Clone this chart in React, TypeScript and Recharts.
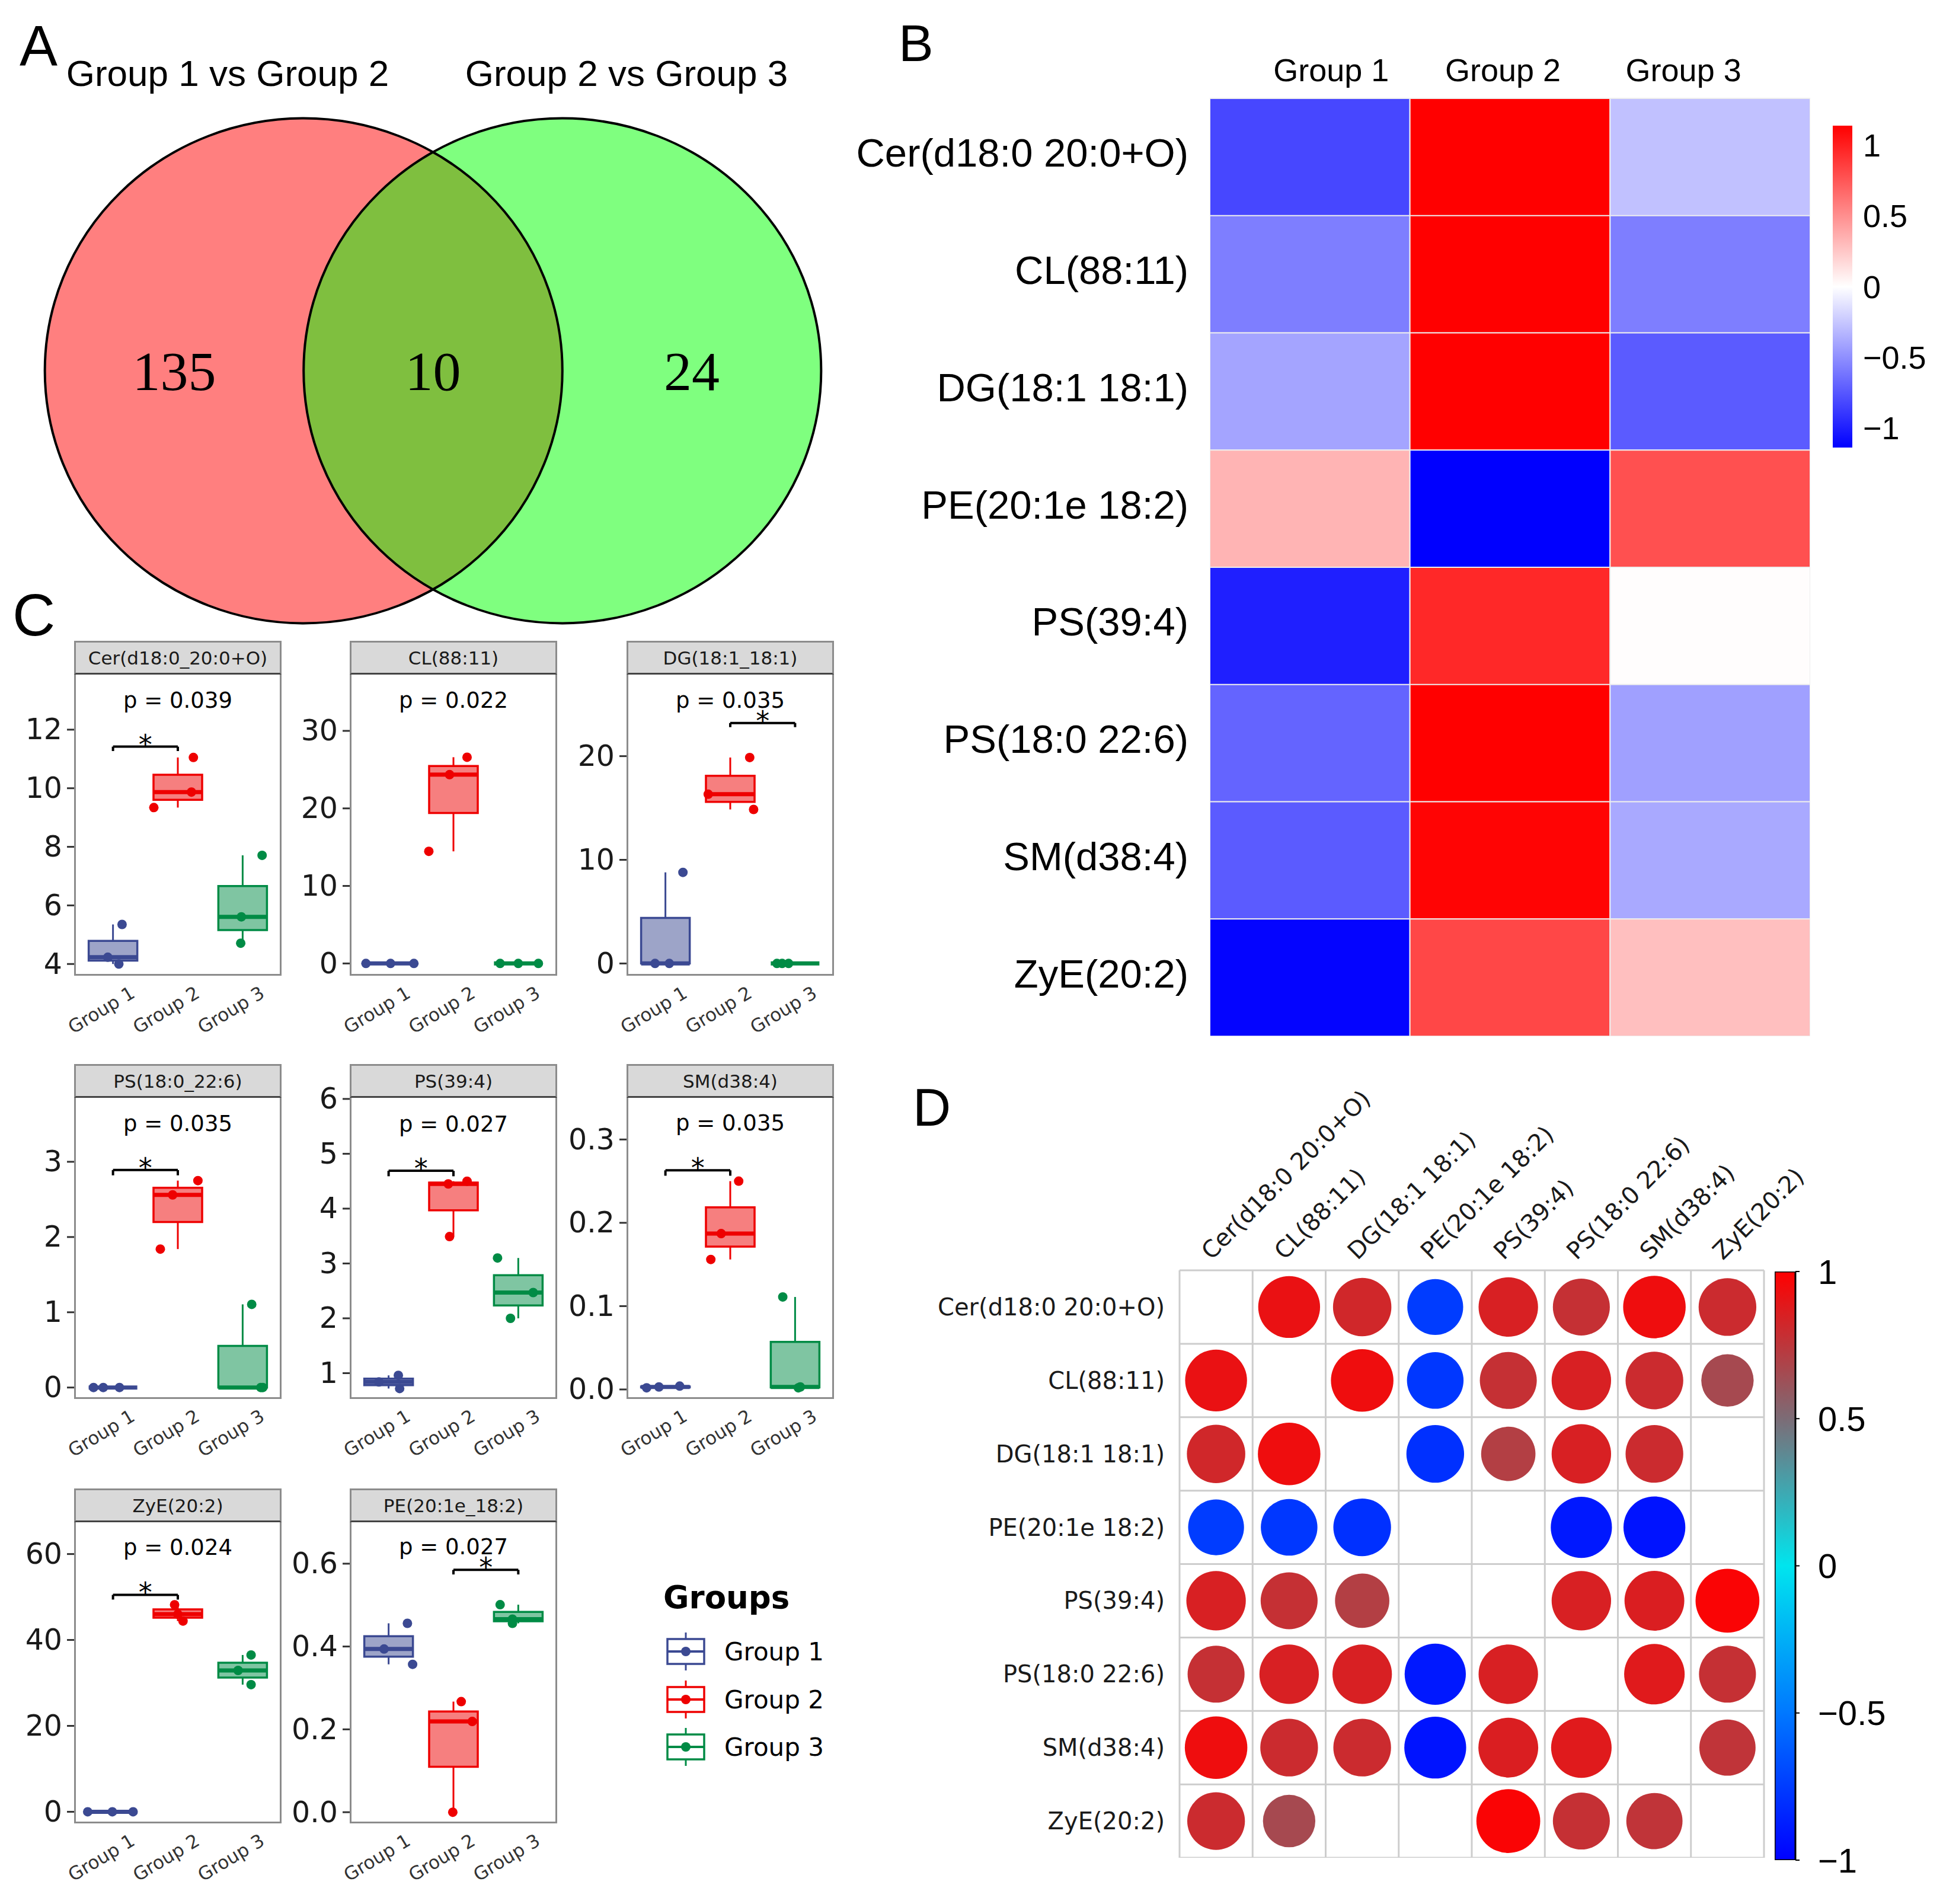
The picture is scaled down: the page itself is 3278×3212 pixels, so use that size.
import React from 'react';
import {
  ScatterChart, Scatter, XAxis, YAxis, BarChart, Bar, Cell,
  ReferenceArea, ReferenceLine, ReferenceDot,
} from 'recharts';

const ARIAL = '"Liberation Sans", Arial, sans-serif';
const SERIF = '"Liberation Serif", "Times New Roman", serif';
const DEJAVU = '"DejaVu Sans", sans-serif';

// ---------------- Panel A (Venn) data ----------------
const VENN_SETS = [
  { name: 'Group 1 vs Group 2', x: 0, y: 0, color: '#FF0000' },
  { name: 'Group 2 vs Group 3', x: 1, y: 0, color: '#00FF00' },
];
const VENN_REGIONS = [
  { x: -0.5, y: 0, count: 135 },
  { x: 0.5, y: 0, count: 10 },
  { x: 1.5, y: 0, count: 24 },
];

// ---------------- Panel B (heatmap) data ----------------
const LIPIDS = ['Cer(d18:0 20:0+O)', 'CL(88:11)', 'DG(18:1 18:1)', 'PE(20:1e 18:2)', 'PS(39:4)', 'PS(18:0 22:6)', 'SM(d38:4)', 'ZyE(20:2)'];
const GROUPS = ['Group 1', 'Group 2', 'Group 3'];
const HEAT_G1 = [-0.83, -0.58, -0.41, 0.34, -1.01, -0.70, -0.74, -1.13];
const HEAT_G2 = [1.15, 1.15, 1.15, -1.15, 0.97, 1.15, 1.13, 0.83];
const HEAT_G3 = [-0.28, -0.58, -0.74, 0.79, 0.01, -0.43, -0.39, 0.29];
const HEAT_TICKS = [-1, -0.5, 0, 0.5, 1];
const HEAT_LIMIT = 1.14;
const HEAT_COL_LABEL_DX = [36, -12, -45];

// ---------------- Panel C (boxplots) data ----------------
const C_TITLES = ['Cer(d18:0_20:0+O)', 'CL(88:11)', 'DG(18:1_18:1)', 'PS(18:0_22:6)', 'PS(39:4)', 'SM(d38:4)', 'ZyE(20:2)', 'PE(20:1e_18:2)'];
const C_PVALUES = ['p = 0.039', 'p = 0.022', 'p = 0.035', 'p = 0.035', 'p = 0.027', 'p = 0.035', 'p = 0.024', 'p = 0.027'];
const C_P_Y = [13.0, 33.9, 25.4, 3.51, 5.54, 0.32, 61.5, 0.64];
const C_DOMAINS = [[3.6, 13.88], [-1.58, 37.26], [-1.18, 27.87], [-0.152, 3.85], [0.53, 6.02], [-0.0114, 0.35], [-2.7, 67.4], [-0.027, 0.70]];
const C_TICKS = [[4, 6, 8, 10, 12], [0, 10, 20, 30], [0, 10, 20], [0, 1, 2, 3], [1, 2, 3, 4, 5, 6], [0, 0.1, 0.2, 0.3], [0, 20, 40, 60], [0, 0.2, 0.4, 0.6]];
const C_TICK_DECIMALS = [0, 0, 0, 0, 0, 1, 0, 1];
const C_BRACKETS = [
  { a: 1, b: 2, y: 11.42, tip: 11.27 },
  null,
  { a: 2, b: 3, y: 23.2, tip: 22.8 },
  { a: 1, b: 2, y: 2.89, tip: 2.82 },
  { a: 1, b: 2, y: 4.69, tip: 4.59 },
  { a: 1, b: 2, y: 0.263, tip: 0.2565 },
  { a: 1, b: 2, y: 50.5, tip: 49.4 },
  { a: 2, b: 3, y: 0.585, tip: 0.574 },
];
// points: [x (jittered group position), y]
const C_G1 = [
  [[1.14, 5.35], [0.92, 4.23], [1.09, 4.0]],
  [[0.65, 0], [1.03, 0], [1.39, 0]],
  [[1.27, 8.79], [0.84, 0], [1.06, 0]],
  [[0.70, 0], [0.85, 0], [1.10, 0]],
  [[0.85, 0.84], [1.15, 0.96], [1.17, 0.72]],
  [[0.71, 0.002], [0.90, 0.003], [1.22, 0.004]],
  [[0.61, 0], [0.99, 0], [1.31, 0]],
  [[1.29, 0.456], [0.93, 0.394], [1.37, 0.357]],
];
const C_G2 = [
  [[2.24, 11.05], [2.21, 9.87], [1.63, 9.34]],
  [[2.21, 26.6], [1.94, 24.35], [1.62, 14.46]],
  [[2.30, 19.87], [1.66, 16.33], [2.36, 14.86]],
  [[2.31, 2.75], [1.92, 2.56], [1.73, 1.84]],
  [[1.92, 4.45], [2.21, 4.5], [1.94, 3.49]],
  [[2.13, 0.25], [1.86, 0.187], [1.70, 0.156]],
  [[1.95, 48.2], [2.08, 44.4], [2.0, 46.0]],
  [[2.12, 0.267], [2.29, 0.219], [1.99, 0.0]],
];
const C_G3 = [
  [[3.30, 7.71], [2.98, 5.61], [2.97, 4.71]],
  [[2.72, 0], [3.0, 0], [3.31, 0]],
  [[2.72, 0], [2.80, 0], [2.90, 0]],
  [[3.14, 1.105], [3.31, 0], [3.28, 0]],
  [[2.68, 3.1], [3.23, 2.47], [2.88, 2.0]],
  [[2.81, 0.111], [3.08, 0.003], [3.05, 0.002]],
  [[3.13, 36.5], [2.93, 32.9], [3.13, 29.6]],
  [[2.72, 0.501], [2.91, 0.466], [2.91, 0.456]],
];
const GROUP_COLORS = ['#3B4992', '#EE0000', '#008B45'];

// ---------------- Panel D (correlation) data ----------------
const CORR = [
  [null, 0.92, 0.82, -0.75, 0.85, 0.78, 0.94, 0.80],
  [0.92, null, 0.94, -0.77, 0.78, 0.85, 0.80, 0.66],
  [0.82, 0.94, null, -0.80, 0.71, 0.85, 0.80, null],
  [-0.75, -0.77, -0.80, null, null, -0.90, -0.92, null],
  [0.85, 0.78, 0.71, null, null, 0.85, 0.86, 0.98],
  [0.78, 0.85, 0.85, -0.90, 0.85, null, 0.88, 0.78],
  [0.94, 0.80, 0.80, -0.92, 0.86, 0.88, null, 0.76],
  [0.80, 0.66, null, null, 0.98, 0.78, 0.76, null],
];
const CORR_TICKS = [-1, -0.5, 0, 0.5, 1];

// ---------------- helpers ----------------
const fmtMinus = (v: number) => String(v).replace('-', '\u2212');

function heatColor(v: number) {
  const t = Math.max(-1, Math.min(1, v / 1.15));
  if (t < 0) {
    const c = Math.round(255 * (1 + t));
    return `rgb(${c},${c},255)`;
  }
  const c = Math.round(255 * (1 - t));
  return `rgb(255,${c},${c})`;
}

const CORR_STOPS: [number, number[]][] = [
  [-1, [0, 0, 255]],
  [-0.5, [0, 120, 255]],
  [0, [0, 229, 238]],
  [0.5, [124, 108, 118]],
  [1, [255, 0, 0]],
];
function corrColor(r: number) {
  for (let i = 0; i < CORR_STOPS.length - 1; i++) {
    const [a, ca] = CORR_STOPS[i];
    const [b, cb] = CORR_STOPS[i + 1];
    if (r >= a && r <= b) {
      const t = (r - a) / (b - a);
      const c = ca.map((v, k) => Math.round(v + (cb[k] - v) * t));
      return `rgb(${c[0]},${c[1]},${c[2]})`;
    }
  }
  return '#000';
}

function boxStats(vals: number[]) {
  const s = [...vals].sort((a, b) => a - b);
  const q = (p: number) => {
    const h = (s.length - 1) * p;
    const lo = Math.floor(h);
    const hi = Math.ceil(h);
    return s[lo] + (s[hi] - s[lo]) * (h - lo);
  };
  return { min: s[0], q1: q(0.25), med: q(0.5), q3: q(0.75), max: s[s.length - 1] };
}

// ---------------- Panel A ----------------
const VENN_W = 1397;
const VENN_H = 937;
const VENN_XD = [-1.1, 2.1];
const VENN_YD = [-1.1, 1.1];
const UX = VENN_W / (VENN_XD[1] - VENN_XD[0]);
const UY = VENN_H / (VENN_YD[1] - VENN_YD[0]);

function Venn() {
  return (
    <ScatterChart width={VENN_W} height={VENN_H} margin={{ top: 0, right: 0, bottom: 0, left: 0 }}>
      <XAxis type="number" dataKey="x" domain={VENN_XD} hide allowDataOverflow />
      <YAxis type="number" dataKey="y" domain={VENN_YD} hide allowDataOverflow />
      <Scatter
        data={VENN_SETS}
        isAnimationActive={false}
        shape={(p: any) => (
          <ellipse cx={p.cx} cy={p.cy} rx={UX} ry={UY} fill={p.payload.color} fillOpacity={0.5} stroke="none" />
        )}
      />
      <Scatter
        data={VENN_SETS}
        isAnimationActive={false}
        shape={(p: any) => (
          <ellipse cx={p.cx} cy={p.cy} rx={UX} ry={UY} fill="none" stroke="#000" strokeWidth={4} />
        )}
      />
      <Scatter
        data={VENN_REGIONS}
        isAnimationActive={false}
        shape={(p: any) => (
          <text x={p.cx} y={p.cy} textAnchor="middle" dominantBaseline="central" fontSize={94} fontFamily={SERIF} fill="#000">
            {p.payload.count}
          </text>
        )}
      />
    </ScatterChart>
  );
}

// ---------------- Panel B ----------------
function Heatmap() {
  const rows = LIPIDS.map((name) => ({ name, g1: 1, g2: 1, g3: 1 }));
  const cols = [HEAT_G1, HEAT_G2, HEAT_G3];
  return (
    <BarChart
      layout="vertical"
      width={1654}
      height={1688}
      data={rows}
      margin={{ top: 0, right: 0, bottom: 0, left: 0 }}
      barCategoryGap={0}
      barGap={0}
    >
      <XAxis
        type="number"
        orientation="top"
        domain={[0, 3]}
        ticks={[0.5, 1.5, 2.5]}
        allowDataOverflow
        interval={0}
        height={106}
        tickSize={0}
        tickMargin={0}
        axisLine={false}
        tickLine={false}
        tick={(p: any) => {
          const k = Math.floor(p.payload.value);
          return (
            <text x={p.x + HEAT_COL_LABEL_DX[k]} y={p.y - 29} textAnchor="middle" fontSize={54} fontFamily={ARIAL} fill="#000">
              {GROUPS[k]}
            </text>
          );
        }}
      />
      <YAxis
        type="category"
        dataKey="name"
        width={641}
        interval={0}
        tickSize={0}
        tickMargin={0}
        axisLine={false}
        tickLine={false}
        tick={(p: any) => (
          <text x={p.x - 36} y={p.y - 7} textAnchor="end" dominantBaseline="central" fontSize={67} fontFamily={ARIAL} fill="#000">
            {p.payload.value}
          </text>
        )}
      />
      {['g1', 'g2', 'g3'].map((k, j) => (
        <Bar key={k} dataKey={k} stackId="h" isAnimationActive={false} stroke="#EEEEEE" strokeWidth={2}>
          {rows.map((_, i) => (
            <Cell key={i} fill={heatColor(cols[j][i])} />
          ))}
        </Bar>
      ))}
    </BarChart>
  );
}

function HeatLegend() {
  return (
    <BarChart
      width={33 + 150}
      height={543 + 60}
      data={[{ k: 'scale', v: [-HEAT_LIMIT, HEAT_LIMIT] }]}
      margin={{ top: 30, right: 0, bottom: 30, left: 0 }}
      barCategoryGap={0}
    >
      <XAxis type="category" dataKey="k" hide />
      <YAxis
        type="number"
        orientation="right"
        domain={[-HEAT_LIMIT, HEAT_LIMIT]}
        allowDataOverflow
        ticks={HEAT_TICKS}
        interval={0}
        width={150}
        tickSize={0}
        tickMargin={0}
        axisLine={false}
        tickLine={false}
        tick={(p: any) => (
          <text x={p.x + 18} y={p.y} textAnchor="start" dominantBaseline="central" fontSize={54} fontFamily={ARIAL} fill="#000">
            {fmtMinus(p.payload.value)}
          </text>
        )}
      />
      <Bar dataKey="v" fill="url(#gradHeat)" isAnimationActive={false} />
    </BarChart>
  );
}

// ---------------- Panel C ----------------
const FACET_W = 350;
const FACET_H = 508;
const STRIP_H = 57;
const Y_AXIS_W = 110;
const X_AXIS_H = 130;
const TOP_PAD = 30;
const COL_X = [125, 590, 1057];
const ROW_Y = [1081, 1795, 2511];
const FACET_POS = [[0, 0], [1, 0], [2, 0], [0, 1], [1, 1], [2, 1], [0, 2], [1, 2]];

function Facet({ idx }: { idx: number }) {
  const [c, r] = FACET_POS[idx];
  const left = COL_X[c];
  const top = ROW_Y[r];
  const groups = [C_G1[idx], C_G2[idx], C_G3[idx]];
  const dec = C_TICK_DECIMALS[idx];
  const br = C_BRACKETS[idx];
  const elems: any[] = [];
  groups.forEach((pts, gi) => {
    const g = gi + 1;
    const col = GROUP_COLORS[gi];
    const s = boxStats(pts.map((p) => p[1]));
    elems.push(
      <ReferenceLine key={`wu${g}`} segment={[{ x: g, y: s.q3 }, { x: g, y: s.max }]} stroke={col} strokeWidth={3} ifOverflow="visible" />,
      <ReferenceLine key={`wl${g}`} segment={[{ x: g, y: s.min }, { x: g, y: s.q1 }]} stroke={col} strokeWidth={3} ifOverflow="visible" />,
      <ReferenceArea key={`bx${g}`} x1={g - 0.375} x2={g + 0.375} y1={s.q1} y2={s.q3} fill={col} fillOpacity={0.5} stroke={col} strokeWidth={3.5} ifOverflow="visible" />,
      <ReferenceLine key={`md${g}`} segment={[{ x: g - 0.375, y: s.med }, { x: g + 0.375, y: s.med }]} stroke={col} strokeWidth={7} ifOverflow="visible" />,
    );
  });
  if (br) {
    elems.push(
      <ReferenceLine key="bh" segment={[{ x: br.a, y: br.y }, { x: br.b, y: br.y }]} stroke="#000" strokeWidth={4} ifOverflow="visible" />,
      <ReferenceLine key="ba" segment={[{ x: br.a, y: br.tip }, { x: br.a, y: br.y }]} stroke="#000" strokeWidth={4} ifOverflow="visible" />,
      <ReferenceLine key="bb" segment={[{ x: br.b, y: br.tip }, { x: br.b, y: br.y }]} stroke="#000" strokeWidth={4} ifOverflow="visible" />,
      <ReferenceDot
        key="star"
        x={(br.a + br.b) / 2}
        y={br.y}
        ifOverflow="visible"
        shape={(p: any) => (
          <text x={p.cx} y={p.cy + 12} textAnchor="middle" fontSize={46} fontFamily={DEJAVU} fill="#000">*</text>
        )}
      />,
    );
  }
  return (
    <>
      <div
        style={{
          position: 'absolute', left, top, width: FACET_W, height: STRIP_H, boxSizing: 'border-box',
          background: '#D9D9D9', borderTop: '3px solid #8C8C8C', borderLeft: '3px solid #8C8C8C', borderRight: '3px solid #8C8C8C',
          borderBottom: '3px solid #444', display: 'flex', alignItems: 'center', justifyContent: 'center',
          fontFamily: DEJAVU, fontSize: 31, color: '#1A1A1A', whiteSpace: 'nowrap',
        }}
      >
        {C_TITLES[idx]}
      </div>
      <div style={{ position: 'absolute', left: left - Y_AXIS_W, top: top + STRIP_H - TOP_PAD }}>
        <ScatterChart width={FACET_W + Y_AXIS_W} height={FACET_H + X_AXIS_H + TOP_PAD} margin={{ top: TOP_PAD, right: 0, bottom: 0, left: 0 }}>
          <XAxis
            type="number"
            dataKey="x"
            domain={[0.4, 3.6]}
            ticks={[1, 2, 3]}
            allowDataOverflow
            interval={0}
            height={X_AXIS_H}
            tickSize={0}
            tickMargin={0}
            axisLine={false}
            tickLine={false}
            tick={(p: any) => {
              const tx = p.x + 39;
              const ty = p.y + 35;
              return (
                <text x={tx} y={ty} textAnchor="end" fontSize={31} fontFamily={DEJAVU} fill="#333" transform={`rotate(-31 ${tx} ${ty})`}>
                  {GROUPS[p.payload.value - 1]}
                </text>
              );
            }}
          />
          <YAxis
            type="number"
            dataKey="y"
            domain={C_DOMAINS[idx]}
            ticks={C_TICKS[idx]}
            allowDataOverflow
            interval={0}
            width={Y_AXIS_W}
            tickSize={12}
            tickMargin={8}
            axisLine={false}
            tickLine={{ stroke: '#333', strokeWidth: 3 }}
            tick={(p: any) => (
              <text x={p.x} y={p.y} textAnchor="end" dominantBaseline="central" fontSize={49} fontFamily={DEJAVU} fill="#1A1A1A">
                {Number(p.payload.value).toFixed(dec)}
              </text>
            )}
          />
          {elems}
          <ReferenceDot
            x={2}
            y={C_P_Y[idx]}
            ifOverflow="visible"
            shape={(p: any) => (
              <text x={p.cx} y={p.cy} textAnchor="middle" dominantBaseline="central" fontSize={37} fontFamily={DEJAVU} fill="#000">
                {C_PVALUES[idx]}
              </text>
            )}
          />
          {groups.map((pts, gi) => (
            <Scatter
              key={`pts${gi}`}
              data={pts.map(([x, y]) => ({ x, y }))}
              isAnimationActive={false}
              shape={(p: any) => <circle cx={p.cx} cy={p.cy} r={8} fill={GROUP_COLORS[gi]} />}
            />
          ))}
        </ScatterChart>
      </div>
      <div
        style={{
          position: 'absolute', left, top: top + STRIP_H, width: FACET_W, height: FACET_H,
          boxSizing: 'border-box', border: '3px solid #8C8C8C', borderTop: 'none', pointerEvents: 'none',
        }}
      />
    </>
  );
}

// ---------------- Panel D ----------------
const D_RMAX = 54.4;
function CorrPlot() {
  const pts: any[] = [];
  CORR.forEach((row, i) =>
    row.forEach((r, j) => {
      if (r !== null) pts.push({ x: j + 0.5, y: i + 0.5, r });
    }),
  );
  const centers = LIPIDS.map((_, i) => i + 0.5);
  const bounds = [0, 1, 2, 3, 4, 5, 6, 7, 8];
  return (
    <ScatterChart width={1476 + 250} height={1304} margin={{ top: 0, right: 250, bottom: 0, left: 0 }}>
      <XAxis
        type="number"
        dataKey="x"
        orientation="top"
        domain={[0, 8]}
        ticks={centers}
        allowDataOverflow
        interval={0}
        height={313}
        tickSize={0}
        tickMargin={0}
        axisLine={false}
        tickLine={false}
        tick={(p: any) => {
          const tx = p.x - 8;
          const ty = p.y - 16;
          return (
            <text x={tx} y={ty} textAnchor="start" fontSize={40} fontFamily={DEJAVU} fill="#1A1A1A" transform={`rotate(-45 ${tx} ${ty})`}>
              {LIPIDS[Math.floor(p.payload.value)]}
            </text>
          );
        }}
      />
      <YAxis
        type="number"
        dataKey="y"
        domain={[0, 8]}
        reversed
        ticks={centers}
        allowDataOverflow
        interval={0}
        width={490}
        tickSize={0}
        tickMargin={0}
        axisLine={false}
        tickLine={false}
        tick={(p: any) => (
          <text x={p.x - 25} y={p.y} textAnchor="end" dominantBaseline="central" fontSize={40} fontFamily={DEJAVU} fill="#1A1A1A">
            {LIPIDS[Math.floor(p.payload.value)]}
          </text>
        )}
      />
      {bounds.map((b) => (
        <ReferenceLine key={`vx${b}`} x={b} stroke="#CDCDCD" strokeWidth={3} />
      ))}
      {bounds.map((b) => (
        <ReferenceLine key={`hy${b}`} y={b} stroke="#CDCDCD" strokeWidth={3} />
      ))}
      <Scatter
        data={pts}
        isAnimationActive={false}
        shape={(p: any) => (
          <circle cx={p.cx} cy={p.cy} r={D_RMAX * Math.sqrt(Math.abs(p.payload.r))} fill={corrColor(p.payload.r)} />
        )}
      />
    </ScatterChart>
  );
}

function CorrLegend() {
  return (
    <BarChart
      width={35 + 200}
      height={993 + 80}
      data={[{ k: 'scale', v: [-1, 1] }]}
      margin={{ top: 40, right: 0, bottom: 40, left: 0 }}
      barCategoryGap={0}
    >
      <XAxis type="category" dataKey="k" hide />
      <YAxis
        type="number"
        orientation="right"
        domain={[-1, 1]}
        allowDataOverflow
        ticks={CORR_TICKS}
        interval={0}
        width={200}
        tickSize={7}
        tickMargin={31}
        axisLine={false}
        tickLine={{ stroke: '#000', strokeWidth: 2 }}
        tick={(p: any) => (
          <text x={p.x} y={p.y} textAnchor="start" dominantBaseline="central" fontSize={58} fontFamily={ARIAL} fill="#000">
            {fmtMinus(p.payload.value)}
          </text>
        )}
      />
      <Bar dataKey="v" fill="url(#gradCorr)" stroke="#000" strokeWidth={3} isAnimationActive={false} />
    </BarChart>
  );
}

// ---------------- App ----------------
export default function App() {
  const legendY = [2786, 2867, 2947];
  return (
    <div style={{ position: 'relative', width: 3278, height: 3212, background: '#FFFFFF', overflow: 'hidden', fontFamily: ARIAL }}>
      <style>{'html,body{margin:0;padding:0;background:#fff;}'}</style>
      <svg width={0} height={0} style={{ position: 'absolute' }}>
        <defs>
          <linearGradient id="gradHeat" x1="0" y1="0" x2="0" y2="1">
            <stop offset="0%" stopColor="#FF0000" />
            <stop offset="50%" stopColor="#FFFFFF" />
            <stop offset="100%" stopColor="#0000FF" />
          </linearGradient>
          <linearGradient id="gradCorr" x1="0" y1="0" x2="0" y2="1">
            <stop offset="0%" stopColor="rgb(255,0,0)" />
            <stop offset="25%" stopColor="rgb(124,108,118)" />
            <stop offset="50%" stopColor="rgb(0,229,238)" />
            <stop offset="75%" stopColor="rgb(0,120,255)" />
            <stop offset="100%" stopColor="rgb(0,0,255)" />
          </linearGradient>
        </defs>
      </svg>

      <div style={{ position: 'absolute', left: 32, top: 157 }}>
        <Venn />
      </div>

      <div style={{ position: 'absolute', left: 1400, top: 60 }}>
        <Heatmap />
      </div>
      <div style={{ position: 'absolute', left: 3092, top: 212 - 30 }}>
        <HeatLegend />
      </div>

      {C_TITLES.map((_, i) => (
        <Facet key={i} idx={i} />
      ))}

      <div style={{ position: 'absolute', left: 1500, top: 1830 }}>
        <CorrPlot />
      </div>
      <div style={{ position: 'absolute', left: 2994, top: 2145 - 40 }}>
        <CorrLegend />
      </div>

      <svg width={3278} height={3212} style={{ position: 'absolute', left: 0, top: 0, pointerEvents: 'none' }}>
        <text x={33} y={110} fontSize={96} fontFamily={ARIAL} fill="#000">A</text>
        <text x={384} y={145} textAnchor="middle" fontSize={62} fontFamily={ARIAL} fill="#000">{VENN_SETS[0].name}</text>
        <text x={1057} y={145} textAnchor="middle" fontSize={62} fontFamily={ARIAL} fill="#000">{VENN_SETS[1].name}</text>
        <text x={1516} y={103} fontSize={88} fontFamily={ARIAL} fill="#000">B</text>
        <text x={21} y={1072} fontSize={100} fontFamily={ARIAL} fill="#000">C</text>
        <text x={1540} y={1899} fontSize={89} fontFamily={ARIAL} fill="#000">D</text>

        <text x={1119} y={2713} fontSize={53} fontWeight="bold" fontFamily={DEJAVU} fill="#000">Groups</text>
        {GROUPS.map((g, i) => {
          const cy = legendY[i];
          const col = GROUP_COLORS[i];
          return (
            <g key={g}>
              <line x1={1157} x2={1157} y1={cy - 32} y2={cy + 32} stroke={col} strokeWidth={3} />
              <rect x={1126} y={cy - 21} width={62} height={42} fill="#FFFFFF" stroke={col} strokeWidth={3.5} />
              <line x1={1126} x2={1188} y1={cy} y2={cy} stroke={col} strokeWidth={4} />
              <circle cx={1157} cy={cy} r={8} fill={col} />
              <text x={1222} y={cy} dominantBaseline="central" fontSize={42} fontFamily={DEJAVU} fill="#000">{g}</text>
            </g>
          );
        })}
      </svg>
    </div>
  );
}
